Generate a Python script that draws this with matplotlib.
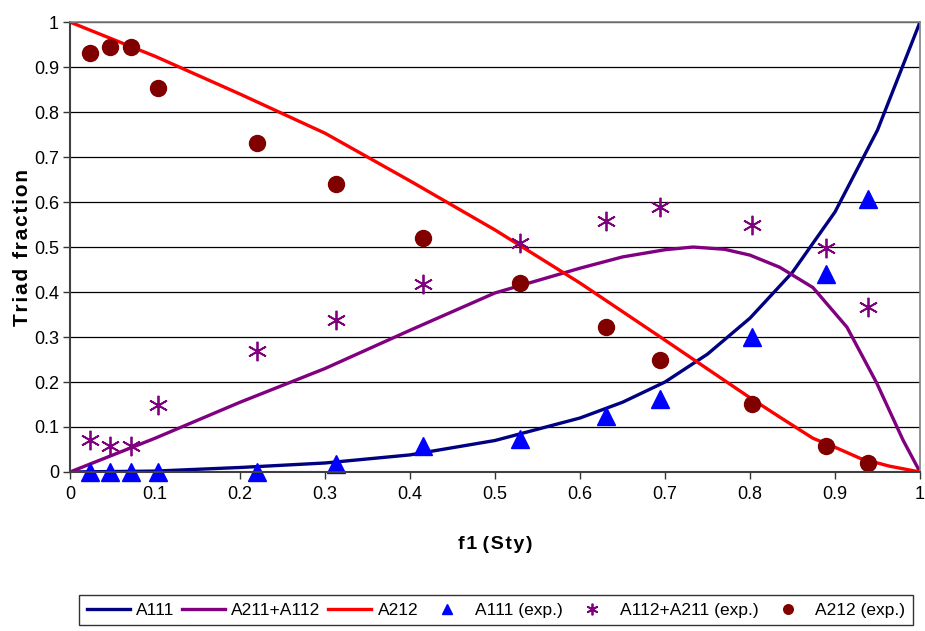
import numpy as np
import matplotlib.pyplot as plt

plt.rcParams['font.family'] = ['Liberation Sans', 'DejaVu Sans']

# model curves
f_a111 = [0, 0.1, 0.2, 0.3, 0.4, 0.5, 0.6, 0.65, 0.7, 0.75, 0.8, 0.85, 0.9, 0.95, 1.0]
a111 = [0, 0.002, 0.01, 0.02, 0.038, 0.07, 0.12, 0.155, 0.2, 0.262, 0.342, 0.444, 0.578, 0.76, 1.0]

f_mix = [0, 0.1, 0.2, 0.3, 0.4, 0.5, 0.6, 0.65, 0.7, 0.733, 0.77, 0.8, 0.835, 0.874, 0.914, 0.949, 0.98, 1.0]
a211_a112 = [0, 0.075, 0.155, 0.23, 0.315, 0.398, 0.453, 0.478, 0.494, 0.5, 0.495, 0.482, 0.455, 0.41, 0.322, 0.198, 0.071, 0]

f_a212 = [0, 0.1, 0.2, 0.3, 0.4, 0.5, 0.6, 0.7, 0.8, 0.835, 0.874, 0.9, 0.93, 0.964, 1.0]
a212 = [1.0, 0.924, 0.84, 0.753, 0.647, 0.538, 0.42, 0.293, 0.165, 0.122, 0.075, 0.055, 0.03, 0.013, 0]

# experimental points
f_exp = [0.0235, 0.047, 0.072, 0.1035, 0.22, 0.313, 0.415, 0.529, 0.631, 0.694, 0.802, 0.889, 0.939]
a111_exp = [0, 0, 0, 0, 0, 0.017, 0.058, 0.073, 0.125, 0.163, 0.30, 0.44, 0.607]
mix_exp = [0.071, 0.058, 0.058, 0.149, 0.269, 0.338, 0.418, 0.509, 0.558, 0.589, 0.549, 0.498, 0.367]
a212_exp = [0.931, 0.944, 0.944, 0.853, 0.731, 0.64, 0.52, 0.42, 0.322, 0.249, 0.151, 0.058, 0.02]

tick_labels = ['0', '0.1', '0.2', '0.3', '0.4', '0.5', '0.6', '0.7', '0.8', '0.9', '1']


def spaced(s):
    # loosen the letter spacing with hair spaces
    return '\u200a'.join(s)


fig = plt.figure(figsize=(9.25, 6.31), dpi=100)
ax = fig.add_axes([0.0757, 0.252, 0.9189, 0.713])

ax.plot(f_a111, a111, color='#000080', lw=2.4, label='A111')
ax.plot(f_mix, a211_a112, color='#800080', lw=2.4, label='A211+A112')
ax.plot(f_a212, a212, color='#FF0000', lw=2.4, label='A212')
ax.plot(f_exp, a111_exp, ls='none', marker='^', ms=13, color='#0000FF', label='A111 (exp.)', clip_on=False)
ax.plot(f_exp, mix_exp, ls='none', marker=(6, 2, 0), ms=14, mew=1.3, color='#800080', label='A112+A211 (exp.)')
ax.plot(f_exp, a212_exp, ls='none', marker='o', ms=11.5, color='#800000', label='A212 (exp.)')

ax.set_xlim(0, 1)
ax.set_ylim(0, 1)
ax.set_xticks(np.arange(0, 1.01, 0.1))
ax.set_yticks(np.arange(0, 1.01, 0.1))
ax.set_xticklabels(tick_labels)
ax.set_yticklabels(tick_labels)
ax.tick_params(labelsize=13, direction='out', length=5, width=1, color='#333333')
ax.tick_params(axis='x', pad=5)
ax.tick_params(axis='y', pad=3)
ax.grid(axis='y', color='black', lw=0.9)
ax.set_axisbelow(True)
for side in ['top', 'right']:
    ax.spines[side].set_color('#808080')
    ax.spines[side].set_linewidth(1.2)
for side in ['left', 'bottom']:
    ax.spines[side].set_color('#404040')
    ax.spines[side].set_linewidth(1.5)

ax.set_xlabel(spaced('f1') + ' ' + spaced('(Sty)'), fontsize=14, fontweight='bold', labelpad=24)
ax.set_ylabel(spaced('Triad') + ' \u2009' + spaced('fraction'), fontsize=15, fontweight='bold', labelpad=1)

leg = fig.legend(loc='lower left', bbox_to_anchor=(0.0757, -0.005, 0.921, 0.06), mode='expand',
                 ncol=6, fontsize=12.5, frameon=True, fancybox=False, edgecolor='black',
                 handlelength=2.5, handletextpad=0.35, columnspacing=0.6, borderpad=0.45,
                 markerscale=0.6)
leg.get_frame().set_linewidth(1.0)

fig.savefig('out.png', dpi=100)
